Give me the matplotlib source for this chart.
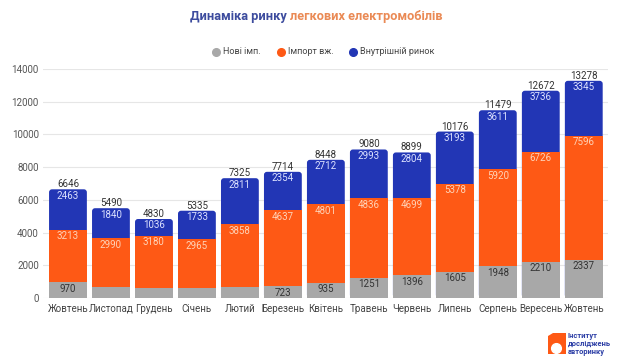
import numpy as np
import matplotlib
matplotlib.use("Agg")
import matplotlib.pyplot as plt
from matplotlib.patches import FancyBboxPatch, Polygon
from matplotlib.lines import Line2D

plt.rcParams["font.family"] = ["Roboto", "DejaVu Sans"]

months = ["Жовтень", "Листопад", "Грудень", "Січень", "Лютий", "Березень", "Квітень",
          "Травень", "Червень", "Липень", "Серпень", "Вересень", "Жовтень"]
new_imp = [970, 660, 614, 637, 656, 723, 935, 1251, 1396, 1605, 1948, 2210, 2337]
import_used = [3213, 2990, 3180, 2965, 3858, 4637, 4801, 4836, 4699, 5378, 5920, 6726, 7596]
domestic = [2463, 1840, 1036, 1733, 2811, 2354, 2712, 2993, 2804, 3193, 3611, 3736, 3345]
# grey segments without a label in the picture
show_gray = [True, False, False, False, False, True, True, True, True, True, True, True, True]

GRAY = "#a8a8a8"
ORANGE = "#fe5915"
BLUE = "#2236b5"

new_imp = np.array(new_imp)
import_used = np.array(import_used)
domestic = np.array(domestic)
totals = new_imp + import_used + domestic
x = np.arange(len(months))
width = 0.88

fig = plt.figure(figsize=(6.2, 3.59), dpi=100)
ax = fig.add_axes([0.0694, 0.1699, 0.911, 0.6379])
ax.set_xlim(-0.58, len(months) - 1 + 0.56)
ax.set_ylim(0, 14000)

# blue drawn full height with rounded top, the other segments stacked over it
px_x = 43.0          # pixels per x unit
px_y = 0.01636       # pixels per y unit
r = 3.0 / px_x
aspect = (3.0 / px_y) / r
for xi, tot in zip(x, totals):
    ax.add_patch(FancyBboxPatch((xi - width / 2, 0), width, tot,
                                boxstyle=f"round,pad=0,rounding_size={r}",
                                mutation_aspect=aspect, fc=BLUE, ec="none", zorder=2))
ax.bar(x, import_used, width, bottom=new_imp, color=ORANGE, zorder=3)
ax.bar(x, new_imp, width, color=GRAY, zorder=3)

fs = 7
off = 6.5 / px_y
for xi, g, o, b, tot, sg in zip(x, new_imp, import_used, domestic, totals, show_gray):
    ax.text(xi, tot + 5 / px_y, f"{tot}", ha="center", va="center", fontsize=fs, color="#333333", zorder=5)
    ax.text(xi, tot - off, f"{b}", ha="center", va="center", fontsize=fs, color="#dde2ff", zorder=5)
    ax.text(xi, g + o - off, f"{o}", ha="center", va="center", fontsize=fs, color="#ffd3b8", zorder=5)
    if sg:
        ax.text(xi, g - off, f"{g}", ha="center", va="center", fontsize=fs, color="#333333", zorder=5)

ax.set_yticks(np.arange(0, 14001, 2000))
ax.grid(axis="y", color="#e6e6e6", linewidth=0.8, zorder=0)
ax.set_axisbelow(True)
for s in ax.spines.values():
    s.set_visible(False)
ax.tick_params(length=0)
ax.tick_params(axis="y", labelsize=fs, labelcolor="#555555", pad=3)
ax.set_xticks(x)
ax.set_xticklabels(months, fontsize=fs, color="#444444")
ax.tick_params(axis="x", pad=4)

# title in two colours
t1 = fig.text(0.306, 0.955, "Динаміка ринку ", fontsize=9.2, fontweight="bold",
              color="#3d4c9e", ha="left", va="center")
fig.add_artist(matplotlib.text.Annotation("легкових електромобілів", xy=(1, 0), xycoords=t1,
                                          fontsize=9.2, fontweight="bold", color="#ea8a55",
                                          ha="left", va="bottom"))

# legend
yl = 1 - 52 / 359
leg_items = [("Нові імп.", GRAY, 216), ("Імпорт вж.", ORANGE, 281), ("Внутрішній ринок", BLUE, 353)]
for label, col, px in leg_items:
    fig.add_artist(Line2D([px / 620], [yl], marker="o", markersize=5.5, color=col,
                          linestyle="none", transform=fig.transFigure))
    fig.text((px + 7) / 620, yl, label, fontsize=6.5, color="#444444", ha="left", va="center")

# logo in the corner
fig.add_artist(Polygon([(548 / 620, 1 - 354 / 359), (548 / 620, 1 - 336 / 359), (553 / 620, 1 - 333 / 359),
                        (566 / 620, 1 - 333 / 359), (566 / 620, 1 - 354 / 359)],
                       closed=True, fc=ORANGE, ec="none", transform=fig.transFigure))
fig.add_artist(Line2D([556 / 620], [1 - 348 / 359], marker="o", markersize=7, color="white",
                      linestyle="none", transform=fig.transFigure))
fig.text(568 / 620, 1 - 344 / 359, "Інститут\nдосліджень\nавторинку", fontsize=5.4,
         fontweight="bold", color="#2d3fa6", ha="left", va="center", linespacing=1.0)

fig.savefig("out.png", dpi=100)
